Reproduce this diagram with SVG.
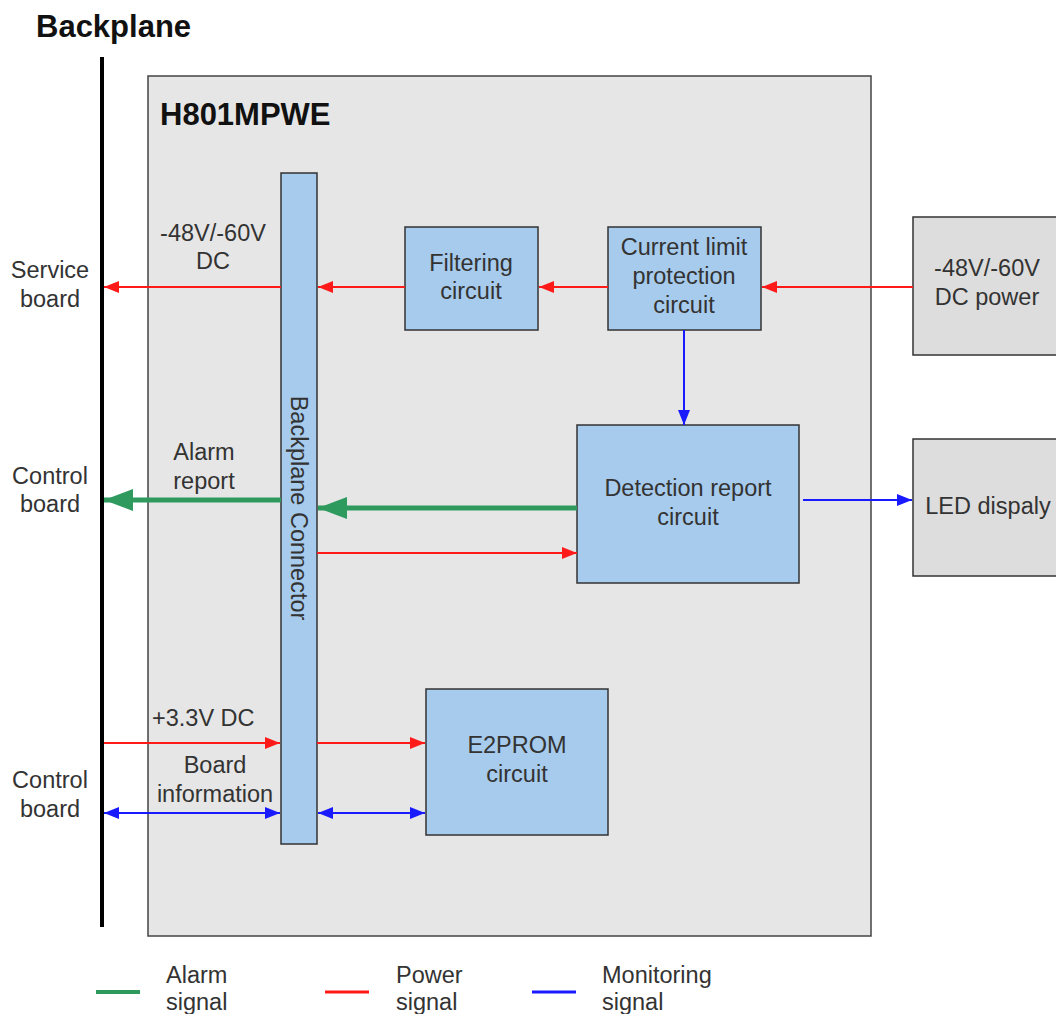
<svg xmlns="http://www.w3.org/2000/svg" width="1056" height="1014" viewBox="0 0 1056 1014">
<style>
text{font-family:"Liberation Sans",Arial,sans-serif;font-size:23.5px;fill:#333}
.t{text-anchor:middle}
.b{font-weight:bold;fill:#111;font-size:31px}
.blk{fill:#a7cbec;stroke:#333;stroke-width:1.5}
.ext{fill:#dddddd;stroke:#333;stroke-width:1.5}
.r{stroke:#ff1a1a;stroke-width:2;fill:none}
.bl{stroke:#1a1aff;stroke-width:2;fill:none}
.g{stroke:#2e9a5e;stroke-width:5;fill:none}
</style>
<defs>
<marker id="ar" markerUnits="userSpaceOnUse" markerWidth="16" markerHeight="12" refX="15" refY="6" orient="auto"><path d="M0,0L15,6L0,12z" fill="#ff1a1a"/></marker>
<marker id="ab" markerUnits="userSpaceOnUse" markerWidth="16" markerHeight="12" refX="15" refY="6" orient="auto"><path d="M0,0L15,6L0,12z" fill="#1a1aff"/></marker>
<marker id="abs" markerUnits="userSpaceOnUse" markerWidth="16" markerHeight="12" refX="1" refY="6" orient="auto"><path d="M16,0L1,6L16,12z" fill="#1a1aff"/></marker>
<marker id="ag" markerUnits="userSpaceOnUse" markerWidth="30" markerHeight="22" refX="29" refY="11" orient="auto"><path d="M0,0L29,11L0,22z" fill="#2e9a5e"/></marker>
</defs>
<text x="36" y="37" class="b">Backplane</text>
<line x1="102" y1="57" x2="102" y2="927" stroke="#000" stroke-width="4"/>
<g id="board"><rect x="148" y="76" width="723" height="860" fill="#e6e6e6" stroke="#444" stroke-width="1.5"/>
<text x="160" y="125" class="b">H801MPWE</text></g>
<g id="connector"><rect x="281" y="173" width="36" height="671" class="blk"/>
<text transform="translate(291,508) rotate(90)" class="t">Backplane Connector</text></g>
<g id="filter"><rect x="405" y="227" width="133" height="103" class="blk"/>
<text x="471" y="271" class="t">Filtering</text><text x="471" y="299" class="t">circuit</text></g>
<g id="current"><rect x="608" y="227" width="153" height="103" class="blk"/>
<text x="684" y="255" class="t">Current limit</text><text x="684" y="284" class="t">protection</text><text x="684" y="313" class="t">circuit</text></g>
<g id="detect"><rect x="577" y="425" width="222" height="158" class="blk"/>
<text x="688" y="496" class="t">Detection report</text><text x="688" y="525" class="t">circuit</text></g>
<g id="e2prom"><rect x="426" y="689" width="182" height="146" class="blk"/>
<text x="517" y="753" class="t">E2PROM</text><text x="517" y="782" class="t">circuit</text></g>
<g id="dcpower"><rect x="913" y="217" width="150" height="138" class="ext"/>
<text x="987" y="276" class="t">-48V/-60V</text><text x="987" y="305" class="t">DC power</text></g>
<g id="led"><rect x="913" y="439" width="150" height="137" class="ext"/>
<text x="988" y="514" class="t">LED dispaly</text></g>
<g id="labels">
<text x="50" y="278" class="t">Service</text><text x="50" y="307" class="t">board</text>
<text x="50" y="484" class="t">Control</text><text x="50" y="512" class="t">board</text>
<text x="50" y="788" class="t">Control</text><text x="50" y="817" class="t">board</text>
<text x="213" y="241" class="t">-48V/-60V</text><text x="213" y="269" class="t">DC</text>
<text x="204" y="460" class="t">Alarm</text><text x="204" y="489" class="t">report</text>
<text x="152" y="726">+3.3V DC</text>
<text x="215" y="773" class="t">Board</text><text x="215" y="802" class="t">information</text>
</g>
<g id="connectors">
<line x1="913" y1="287" x2="762" y2="287" class="r" marker-end="url(#ar)"/>
<line x1="608" y1="287" x2="539" y2="287" class="r" marker-end="url(#ar)"/>
<line x1="405" y1="287" x2="318" y2="287" class="r" marker-end="url(#ar)"/>
<line x1="281" y1="287" x2="104" y2="287" class="r" marker-end="url(#ar)"/>
<line x1="684" y1="330" x2="684" y2="425" class="bl" marker-end="url(#ab)"/>
<line x1="577" y1="508" x2="318" y2="508" class="g" marker-end="url(#ag)"/>
<line x1="281" y1="500" x2="104" y2="500" class="g" marker-end="url(#ag)"/>
<line x1="317" y1="553" x2="577" y2="553" class="r" marker-end="url(#ar)"/>
<line x1="803" y1="500" x2="912" y2="500" class="bl" marker-end="url(#ab)"/>
<line x1="104" y1="743" x2="280" y2="743" class="r" marker-end="url(#ar)"/>
<line x1="317" y1="743" x2="425" y2="743" class="r" marker-end="url(#ar)"/>
<line x1="104" y1="813" x2="280" y2="813" class="bl" marker-start="url(#abs)" marker-end="url(#ab)"/>
<line x1="318" y1="813" x2="425" y2="813" class="bl" marker-start="url(#abs)" marker-end="url(#ab)"/>
</g>
<g id="legend">
<line x1="96" y1="992" x2="140" y2="992" stroke="#2e9a5e" stroke-width="4"/>
<text x="166" y="983">Alarm</text><text x="166" y="1010">signal</text>
<line x1="325" y1="992" x2="369" y2="992" stroke="#ff1a1a" stroke-width="3"/>
<text x="396" y="983">Power</text><text x="396" y="1010">signal</text>
<line x1="532" y1="992" x2="576" y2="992" stroke="#1a1aff" stroke-width="3"/>
<text x="602" y="983">Monitoring</text><text x="602" y="1010">signal</text>
</g>
</svg>
